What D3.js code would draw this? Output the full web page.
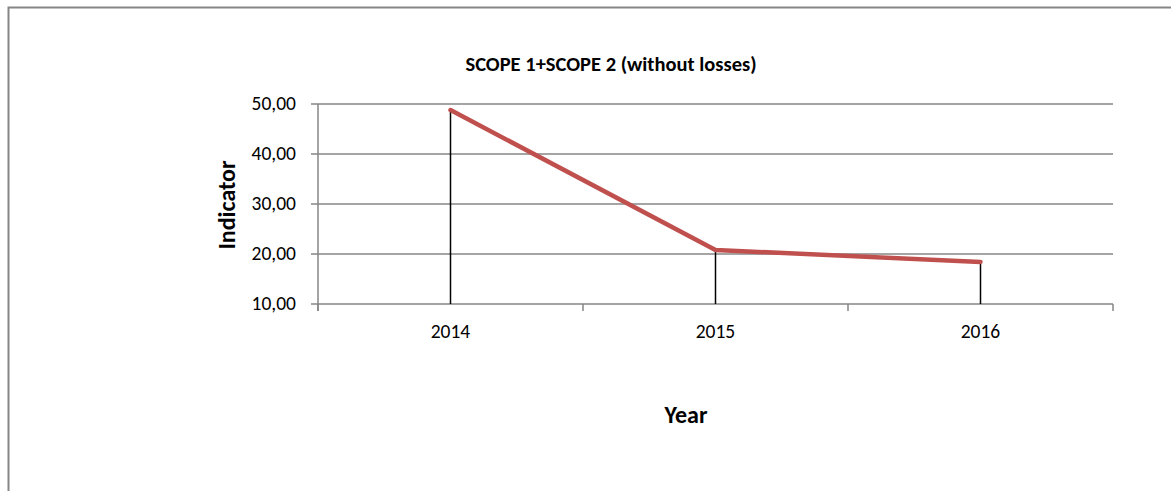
<!DOCTYPE html>
<html>
<head>
<meta charset="utf-8">
<script src="https://cdn.jsdelivr.net/npm/d3@7"></script>
<style>
  body { margin: 0; background: #fff; }
  svg text { font-family: Carlito, "Liberation Sans", Arial, sans-serif; fill: #000; }
</style>
</head>
<body>
<svg id="chart" width="1171" height="491"></svg>
<script>
// data
var years = ["2014", "2015", "2016"];
var indicator = [48.8, 20.8, 18.4];
var yTicks = [10, 20, 30, 40, 50];

var svg = d3.select("#chart");

// outer frame (runs off the right and bottom edges)
svg.append("path")
    .attr("d", "M8.5,491 V7.5 H1171")
    .attr("fill", "none")
    .attr("stroke", "#868686")
    .attr("stroke-width", 2);

var plot = {left: 318, right: 1113, top: 104, bottom: 304};

var x = d3.scaleBand().domain(years).range([plot.left, plot.right]);
var y = d3.scaleLinear().domain([10, 50]).range([plot.bottom, plot.top]);

// gridlines
svg.append("g").selectAll("line")
    .data(yTicks)
    .join("line")
    .attr("x1", plot.left - 7)
    .attr("x2", plot.right)
    .attr("y1", d => y(d))
    .attr("y2", d => y(d))
    .attr("stroke", "#868686")
    .attr("stroke-width", 1.5);

// y axis
var comma = d => d3.format(".2f")(d).replace(".", ",");
svg.append("line")
    .attr("x1", plot.left).attr("x2", plot.left)
    .attr("y1", plot.top).attr("y2", plot.bottom + 7)
    .attr("stroke", "#868686").attr("stroke-width", 1.5);
svg.append("g").selectAll("text")
    .data(yTicks)
    .join("text")
    .attr("x", plot.left - 22)
    .attr("y", d => y(d))
    .attr("dy", "0.33em")
    .attr("text-anchor", "end")
    .style("font-size", "19.5px")
    .text(comma);

// x axis ticks at band edges
var edges = years.map(d => x(d)).concat([plot.right]);
svg.append("g").selectAll("line")
    .data(edges)
    .join("line")
    .attr("x1", d => d).attr("x2", d => d)
    .attr("y1", plot.bottom).attr("y2", plot.bottom + 7)
    .attr("stroke", "#868686").attr("stroke-width", 1.5);
svg.append("g").selectAll("text")
    .data(years)
    .join("text")
    .attr("x", d => x(d) + x.bandwidth() / 2)
    .attr("y", 338)
    .attr("text-anchor", "middle")
    .style("font-size", "19.5px")
    .text(d => d);

// drop lines
var cx = d => x(d) + x.bandwidth() / 2;
svg.append("g").selectAll("line")
    .data(years)
    .join("line")
    .attr("x1", cx).attr("x2", cx)
    .attr("y1", (d, i) => y(indicator[i]))
    .attr("y2", plot.bottom)
    .attr("stroke", "#000")
    .attr("stroke-width", 1.5);

// series line
var line = d3.line()
    .x((d, i) => cx(years[i]))
    .y(d => y(d));
svg.append("path")
    .datum(indicator)
    .attr("d", line)
    .attr("fill", "none")
    .attr("stroke", "#c0504d")
    .attr("stroke-width", 4.5)
    .attr("stroke-linecap", "round")
    .attr("stroke-linejoin", "round");

// titles
svg.append("text")
    .attr("x", 611).attr("y", 71)
    .attr("text-anchor", "middle")
    .style("font-size", "20.5px").style("font-weight", "bold")
    .text("SCOPE 1+SCOPE 2 (without losses)");

svg.append("text")
    .attr("transform", "translate(235,205) rotate(-90)")
    .attr("text-anchor", "middle")
    .style("font-size", "24px").style("font-weight", "bold")
    .text("Indicator");

svg.append("text")
    .attr("x", 686).attr("y", 423)
    .attr("text-anchor", "middle")
    .style("font-size", "24px").style("font-weight", "bold")
    .text("Year");
</script>
</body>
</html>
